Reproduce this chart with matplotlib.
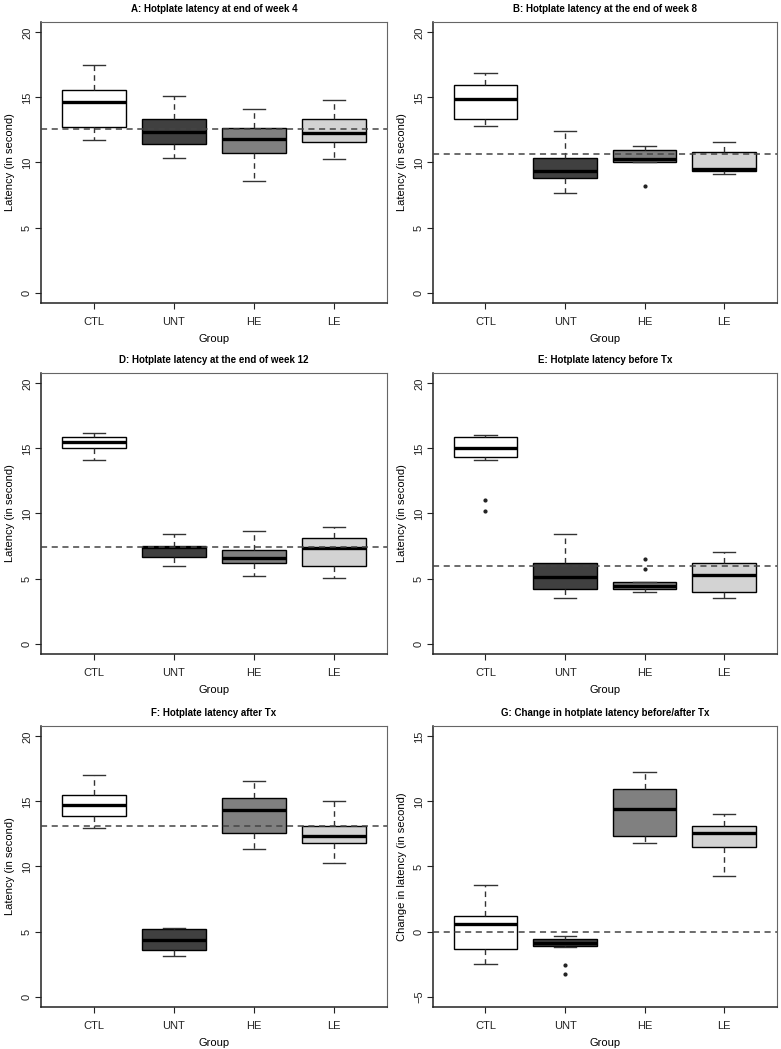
import matplotlib
matplotlib.use("Agg")
import matplotlib.pyplot as plt

plt.rcParams['font.family'] = ['Liberation Sans', 'DejaVu Sans']

groups = ['CTL', 'UNT', 'HE', 'LE']
fills = ['#ffffff', '#404040', '#808080', '#d3d3d3']

titles = ['A: Hotplate latency at end of week 4',
          'B: Hotplate latency at the end of week 8',
          'D: Hotplate latency at the end of week 12',
          'E: Hotplate latency before Tx',
          'F: Hotplate latency after Tx',
          'G: Change in hotplate latency before/after Tx']

# per panel, per group: (lower whisker, q1, median, q3, upper whisker)
stats_A = [(11.7, 12.74, 14.64, 15.59, 17.49), (10.31, 11.41, 12.38, 13.36, 15.13),
           (8.56, 10.74, 11.79, 12.67, 14.13), (10.26, 11.56, 12.26, 13.36, 14.82)]
stats_B = [(12.77, 13.31, 14.85, 15.97, 16.87), (7.69, 8.77, 9.36, 10.33, 12.44),
           (10.0, 10.02, 10.26, 10.97, 11.26), (9.10, 9.36, 9.49, 10.82, 11.56)]
stats_D = [(14.1, 15.0, 15.51, 15.85, 16.15), (6.0, 6.64, 7.41, 7.46, 8.44),
           (5.23, 6.23, 6.56, 7.23, 8.64), (5.08, 5.95, 7.36, 8.08, 9.0)]
stats_E = [(14.1, 14.33, 15.0, 15.87, 16.05), (3.54, 4.18, 5.10, 6.18, 8.46),
           (3.95, 4.2, 4.41, 4.72, 4.74), (3.54, 3.95, 5.31, 6.21, 7.03)]
stats_F = [(12.93, 13.9, 14.75, 15.47, 17.0), (3.12, 3.56, 4.38, 5.2, 5.25),
           (11.37, 12.57, 14.37, 15.24, 16.59), (10.27, 11.78, 12.34, 13.14, 15.0)]
stats_G = [(-2.46, -1.34, 0.56, 1.22, 3.6), (-1.15, -1.13, -0.88, -0.57, -0.31),
           (6.78, 7.37, 9.44, 10.98, 12.23), (4.27, 6.47, 7.57, 8.14, 9.01)]

outliers_A = [[], [], [], []]
outliers_B = [[], [], [8.23], []]
outliers_D = [[], [], [], []]
outliers_E = [[11.0, 10.18], [], [6.51, 5.74], []]
outliers_F = [[], [], [], []]
outliers_G = [[], [-2.59, -3.26], [], []]

ref_lines = [12.54, 10.64, 7.46, 6.0, 13.09, 0.0]

all_stats = [stats_A, stats_B, stats_D, stats_E, stats_F, stats_G]
all_out = [outliers_A, outliers_B, outliers_D, outliers_E, outliers_F, outliers_G]
ylabels = ['Latency (in second)'] * 5 + ['Change in latency (in second)']
ylims = [(0, 20)] * 5 + [(-5, 15)]

fig = plt.figure(figsize=(7.81, 10.49), dpi=100)
lefts = [0.0525, 0.5544]
widths = [0.443, 0.440]
bottoms = [0.7111, 0.3765, 0.0400]
h = 0.268

for k in range(6):
    r, c = divmod(k, 2)
    ax = fig.add_axes([lefts[c], bottoms[r], widths[c], h])
    bxp_stats = []
    for g, s, o in zip(groups, all_stats[k], all_out[k]):
        bxp_stats.append(dict(label=g, whislo=s[0], q1=s[1], med=s[2],
                              q3=s[3], whishi=s[4], fliers=o))
    parts = ax.bxp(bxp_stats, positions=[1, 2, 3, 4], widths=0.8,
                   patch_artist=True, showfliers=True,
                   boxprops=dict(edgecolor='black', linewidth=1.0),
                   medianprops=dict(color='black', linewidth=2.4),
                   whiskerprops=dict(color='#333333', linewidth=1.0, linestyle=(0, (4, 3))),
                   capprops=dict(color='#333333', linewidth=1.0),
                   capwidths=0.28,
                   flierprops=dict(marker='o', markersize=2.0, markerfacecolor='#222222',
                                   markeredgecolor='#222222'))
    for patch, fc in zip(parts['boxes'], fills):
        patch.set_facecolor(fc)
    ax.axhline(ref_lines[k], color='#444444', linewidth=1.1, linestyle=(0, (4, 3)), zorder=5)
    lo, hi = ylims[k]
    pad = (hi - lo) * 0.04
    ax.set_ylim(lo - pad, hi + pad)
    ax.set_xlim(0.34, 4.66)
    ax.set_yticks(range(lo, hi + 1, 5))
    for lab in ax.get_yticklabels():
        lab.set_rotation(90)
        lab.set_va('center')
    ax.tick_params(axis='both', direction='out', length=4, labelsize=8, colors='#222222')
    ax.tick_params(axis='x', pad=6)
    ax.tick_params(axis='y', pad=2.5)
    ax.set_title(titles[k], fontsize=7, fontweight='bold', pad=7)
    ax.set_ylabel(ylabels[k], fontsize=8, labelpad=5)
    ax.set_xlabel('Group', fontsize=8, labelpad=5)
    for side in ['top', 'right']:
        ax.spines[side].set_color('#666666')
    for side in ['left', 'bottom']:
        ax.spines[side].set_color('#222222')
        ax.spines[side].set_linewidth(1.1)

fig.savefig('out.png', dpi=100)
